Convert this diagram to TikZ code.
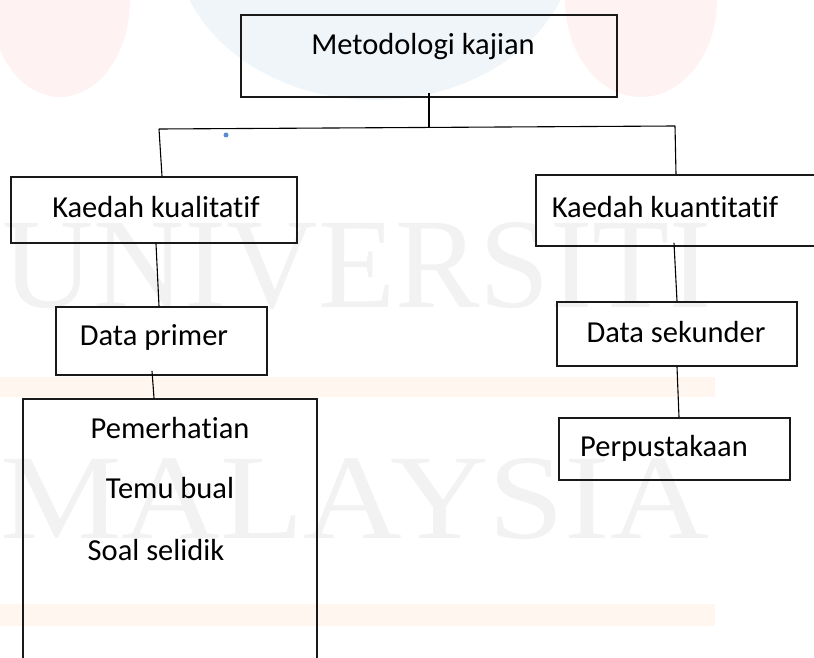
\documentclass[tikz,border=0pt]{standalone}
\usepackage{fontspec}
\setmainfont{Carlito}[Ligatures=NoCommon]
\newfontfamily\wmfont{Liberation Serif}
\usepackage{graphicx}

\definecolor{wmpink}{RGB}{254,242,242}
\definecolor{wmblue}{RGB}{240,245,249}
\definecolor{wmorange}{RGB}{255,246,239}
\definecolor{wmgray}{RGB}{242,242,242}
\definecolor{titikbiru}{RGB}{90,140,210}

\tikzset{
  kotak/.style={draw=black!90, line width=1.8pt, rectangle, inner sep=0pt},
  teks/.style={inner sep=0pt, font=\fontsize{30.5}{36}\selectfont},
  garis/.style={line width=1.1pt},
  tandaair/.style={inner sep=0pt, text=wmgray, font=\wmfont},
}

\begin{document}
\begin{tikzpicture}[x=1pt,y=-1pt]
    \useasboundingbox (0,0) rectangle (814,658);
    \clip (0,0) rectangle (814,658);

    % --- Latar belakang (tanda air) ---
    \fill[wmpink] (60,0) ellipse (70 and 97);
    \fill[wmblue] (375,-60) ellipse (200 and 160);
    \fill[wmpink] (641,0) ellipse (76 and 97);
    \fill[wmorange] (0,377) rectangle (715,397);
    \fill[wmorange] (0,604) rectangle (715,626);
    \node[tandaair, anchor=base west] (wmatas) at (2,307)
        {\resizebox{709pt}{85pt}{UNIVERSITI}};
    \node[tandaair, anchor=base west] (wmbawah) at (0,538)
        {\resizebox{708pt}{80pt}{MALAYSIA}};

    % --- Kotak utama ---
    \node[kotak, minimum width=376pt, minimum height=82pt] (metod) at (429,56) {};
    \node[teks] (metodT) at (423,47) {Metodologi kajian};

    % Cabang
    \coordinate (simpang) at (429,128);
    \coordinate (bahuKiri) at (159,129);
    \coordinate (bahuKanan) at (675,126);
    \fill[titikbiru] (226,135) circle (2.5);

    % --- Kaedah kualitatif ---
    \node[kotak, minimum width=286pt, minimum height=66pt] (kual) at (154,210) {};
    \node[teks] (kualT) at (156,207) {Kaedah kualitatif};

    \node[kotak, minimum width=211pt, minimum height=68pt] (primer) at (161.5,341) {};
    \node[teks] (primerT) at (154,337) {Data primer};

    \node[kotak, minimum width=294pt, minimum height=281pt] (pemer) at (170,539.5) {};
    \node[teks] (pemerA) at (170,428) {Pemerhatian};
    \node[teks] (pemerB) at (170,488) {Temu bual};
    \node[teks] (pemerC) at (156,550) {Soal selidik};

    % --- Kaedah kuantitatif ---
    \node[kotak, minimum width=300pt, minimum height=71pt] (kuant) at (686,210.5) {};
    \node[teks] (kuantT) at (665,207) {Kaedah kuantitatif};

    \node[kotak, minimum width=240pt, minimum height=64pt] (sekunder) at (677,334) {};
    \node[teks] (sekunderT) at (676,332) {Data sekunder};

    \node[kotak, minimum width=231pt, minimum height=62pt] (perpus) at (674.5,449) {};
    \node[teks, anchor=west] (perpusT) at (580,448) {Perpustakaan};

    % --- Garis penghubung ---
    \draw[garis] ([yshift=5pt]metod.south) -- (simpang);
    \draw[garis] (bahuKiri) -- (bahuKanan);
    \draw[garis] (bahuKiri) -- ([xshift=8pt]kual.north);
    \draw[garis] (bahuKanan) -- ([xshift=-10pt]kuant.north);
    \draw[garis] ([xshift=2pt]kual.south) -- ([xshift=-2.5pt]primer.north);
    \draw[garis] ([xshift=-9.5pt,yshift=5pt]primer.south) -- ([xshift=-16pt]pemer.north);
    \draw[garis] ([xshift=-12pt,yshift=4pt]kuant.south) -- (sekunder.north);
    \draw[garis] (sekunder.south) -- ([xshift=4.5pt]perpus.north);
\end{tikzpicture}
\end{document}
